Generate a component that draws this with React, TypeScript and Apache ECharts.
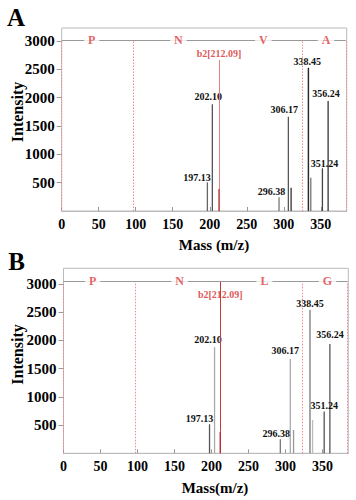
import React, { useEffect, useRef } from 'react';
import * as echarts from 'echarts';

// ---------- data ----------
const xTickValues = [0, 50, 100, 150, 200, 250, 300, 350];
const yTickValues = [500, 1000, 1500, 2000, 2500, 3000];

// Panel A
const peakMassA = [196.8, 203.5, 293.6, 306.2, 309.9, 333.2, 336.5, 352.2, 359.9];
const peakIntA = [506, 1883, 242, 1664, 411, 2529, 588, 754, 1941];
const peakLabelA = ['197.13', '202.10', '296.38', '306.17', '', '338.45', '', '351.24', '356.24'];
const b2MassA = 212.6;
const b2IntA = 388;
const b2LineTopA = 2665;
const b2LabelIntA = 2783;
const residueBoundsA = [0, 96.8, 324.3, 383.8];
const residueNamesA = ['P', 'N', 'V', 'A'];
const residuePosA = [40.5, 157.6, 272.4, 357];
const seqLevelA = 3018;

// Panel B
const peakMassB = [197.4, 204.2, 293.1, 306.6, 311, 333.2, 336.7, 352.4, 360.1];
const peakIntB = [515, 1882, 249, 1674, 414, 2544, 591, 739, 1940];
const peakLabelB = ['197.13', '202.10', '296.38', '306.17', '', '338.45', '', '351.24', '356.24'];
const b2MassB = 211.9;
const b2IntB = 383;
const b2LineTopB = 3046;
const b2LabelIntB = 2823;
const residueBoundsB = [0, 96.4, 323.2, 383.8];
const residueNamesB = ['P', 'N', 'L', 'G'];
const residuePosB = [39.4, 157, 271.6, 356.9];
const seqLevelB = 3046;

const b2Label = 'b2[212.09]';

// ---------- styles ----------
const FONT = "'Liberation Serif', 'Times New Roman', serif";
const RED = '#e0383d';
const peakColorA = ['#666', '#555', '#777', '#555', '#333', '#111', '#777', '#444', '#333'];
const peakColorB = ['#555', '#aaa', '#777', '#aaa', '#999', '#888', '#bbb', '#555', '#555'];
const peakThickA = [0, 0, 0, 0, 0, 0.6, 0, 0, 0];
const peakThickB = [0, 0, 0, 0, 0, 0.7, 0, 0, 0];
const labelOffA = [[-10.5, 1], [-4, -2], [-7.5, 0], [-4, -1], [0, 0], [-1, 0], [0, 0], [2, 1], [-2, -2]];
const labelOffB = [[-10, 0], [-6.5, -2], [-4, 0], [-5, -2], [0, 0], [0, 0], [0, 0], [0, 0], [0, -3]];

function buildPanel(
  idx: number,
  mass: number[], inten: number[], labels: string[], colors: string[], thick: number[], offs: number[][],
  b2Mass: number, b2Int: number, b2Top: number, b2LabelInt: number, b2LineColor: string,
  bounds: number[], names: string[], namePos: number[], seqLevel: number
) {
  const barData: any[] = mass.map((m, i) => ({
    value: [m, inten[i]],
    itemStyle: { color: colors[i], borderColor: colors[i], borderWidth: thick[i] },
    label: {
      show: labels[i] !== '',
      formatter: labels[i],
      position: 'top',
      distance: 1,
      offset: offs[i],
      fontSize: 10,
      fontWeight: 'bold',
      fontFamily: FONT,
      color: '#111',
    },
  }));
  barData.push({ value: [b2Mass, b2Int], itemStyle: { color: '#b01818' }, label: { show: false } });

  const markData: any[] = [];
  bounds.forEach((b) => {
    markData.push([
      { coord: [b, 0], lineStyle: { color: '#ec8c8c', type: [1.5, 1.5], width: 1 } },
      { coord: [b, seqLevel] },
    ]);
  });
  markData.push([
    { coord: [b2Mass, b2Int], lineStyle: { color: b2LineColor, type: 'solid', width: 1 } },
    { coord: [b2Mass, b2Top] },
  ]);
  markData.push([
    { coord: [0, seqLevel], lineStyle: { color: '#999', type: 'solid', width: 1 } },
    { coord: [bounds[bounds.length - 1], seqLevel] },
  ]);

  return [
    {
      type: 'bar',
      xAxisIndex: idx,
      yAxisIndex: idx,
      barWidth: 1.3,
      data: barData,
      z: 3,
      markLine: {
        silent: true,
        symbol: ['none', 'none'],
        label: { show: false },
        data: markData,
        z: 4,
      },
    },
    {
      type: 'scatter',
      xAxisIndex: idx,
      yAxisIndex: idx,
      symbolSize: 0,
      z: 6,
      data: names.map((n, i) => ({ value: [namePos[i], seqLevel], name: n })),
      label: {
        show: true,
        position: 'inside',
        formatter: (p: any) => p.name,
        color: RED,
        fontSize: 12,
        fontWeight: 'bold',
        fontFamily: FONT,
        backgroundColor: '#fff',
        padding: [1, 4],
      },
    },
    {
      type: 'scatter',
      xAxisIndex: idx,
      yAxisIndex: idx,
      symbolSize: 0,
      z: 6,
      data: [{ value: [b2Mass, b2LabelInt], name: b2Label }],
      label: {
        show: true,
        position: 'inside',
        formatter: (p: any) => p.name,
        color: '#d42a2a',
        fontSize: 10,
        fontWeight: 'bold',
        fontFamily: FONT,
      },
    },
  ];
}

function makeX(gridIndex: number) {
  return {
    type: 'value',
    gridIndex,
    min: 0,
    max: 385,
    axisLine: { show: true, lineStyle: { color: '#bbb' } },
    axisTick: { show: true, inside: true, length: 4, lineStyle: { color: '#999' }, customValues: xTickValues },
    axisLabel: {
      customValues: xTickValues,
      formatter: (v: number) => String(v),
      margin: 6, fontSize: 14, fontWeight: 'bold', fontFamily: FONT, color: '#000',
    },
    splitLine: { show: false },
  };
}

function makeY(gridIndex: number, max: number) {
  return {
    type: 'value',
    gridIndex,
    min: 0,
    max,
    axisLine: { show: false },
    axisTick: { show: true, inside: false, length: 5, lineStyle: { color: '#999' }, customValues: yTickValues },
    axisLabel: {
      customValues: yTickValues,
      formatter: (v: number) => String(v),
      margin: 7, fontSize: 15, fontWeight: 'bold', fontFamily: FONT, color: '#000',
    },
    splitLine: { show: false },
  };
}

function titleText(text: string, x: number, y: number, size: number, rotation = 0) {
  return {
    type: 'text',
    x,
    y,
    rotation,
    style: {
      text,
      fontSize: size,
      fontWeight: 'bold',
      fontFamily: FONT,
      fill: '#000',
      align: 'center',
      verticalAlign: 'middle',
    },
  };
}

export default function App() {
  const ref = useRef<HTMLDivElement>(null);
  useEffect(() => {
    if (!ref.current) return;
    const chart = echarts.init(ref.current, null, { renderer: 'svg' });
    const option: any = {
      animation: false,
      backgroundColor: '#fff',
      grid: [
        { left: 61.7, top: 28, width: 285, height: 183, show: true, borderColor: '#bbb', borderWidth: 1 },
        { left: 63.5, top: 268.3, width: 284.8, height: 185, show: true, borderColor: '#bbb', borderWidth: 1 },
      ],
      xAxis: [makeX(0), makeX(1)],
      yAxis: [makeY(0, 3230), makeY(1, 3280)],
      series: [
        ...buildPanel(0, peakMassA, peakIntA, peakLabelA, peakColorA, peakThickA, labelOffA,
          b2MassA, b2IntA, b2LineTopA, b2LabelIntA, '#e58080', residueBoundsA, residueNamesA, residuePosA, seqLevelA),
        ...buildPanel(1, peakMassB, peakIntB, peakLabelB, peakColorB, peakThickB, labelOffB,
          b2MassB, b2IntB, b2LineTopB, b2LabelIntB, '#c83a3a', residueBoundsB, residueNamesB, residuePosB, seqLevelB),
      ],
      graphic: [
        titleText('A', 16, 17, 25),
        titleText('B', 16.7, 261.7, 25),
        titleText('Intensity', 17, 112, 16, Math.PI / 2),
        titleText('Intensity', 17, 354.5, 16, Math.PI / 2),
        titleText('Mass (m/z)', 214, 245, 15),
        titleText('Mass(m/z)', 215, 488, 15),
      ],
    };
    chart.setOption(option);
    return () => chart.dispose();
  }, []);
  return <div ref={ref} style={{ position: 'absolute', left: 0, top: 0, width: 356, height: 500 }} />;
}
